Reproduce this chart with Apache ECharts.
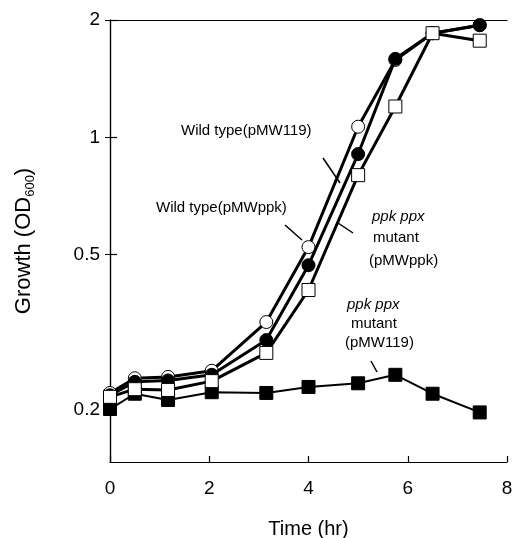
<!DOCTYPE html>
<html>
<head>
<meta charset="utf-8">
<script src="https://cdn.jsdelivr.net/npm/echarts@6/dist/echarts.min.js"></script>
<style>
  html, body { margin: 0; padding: 0; background: #fff; }
  #chart { width: 512px; height: 538px; }
</style>
</head>
<body>
<div id="chart"></div>
<script>
// sampling times (hr)
const times = [0, 0.5, 1.17, 2.05, 3.15, 4, 5, 5.75, 6.5, 7.45];
// OD600 readings
const wtPMWppk = [0.221, 0.241, 0.243, 0.252, 0.336, 0.523, 1.065, 1.58, 1.85, 1.94];   // open circles
const wtPMW119 = [0.218, 0.236, 0.238, 0.246, 0.302, 0.470, 0.906, 1.59, 1.85, 1.94];   // filled circles
const mutPMWppk = [0.216, 0.226, 0.225, 0.237, 0.280, 0.406, 0.800, 1.20, 1.85, 1.77];  // open squares
const mutPMW119 = [0.201, 0.220, 0.212, 0.222, 0.221, 0.229, 0.234, 0.246, 0.220, 0.197]; // filled squares
const yTicks = [0.2, 0.5, 1, 2];

const font = "'Liberation Sans', Arial, sans-serif";
const chart = echarts.init(document.getElementById('chart'));

function lineSeries(name, vals, symbol, filled, width, z) {
  return {
    name: name,
    type: 'line',
    data: times.map((t, i) => [t, vals[i]]),
    symbol: symbol,
    symbolSize: 13,
    showAllSymbol: true,
    z: z,
    lineStyle: { color: '#000', width: width },
    itemStyle: { color: filled ? '#000' : '#fff', borderColor: '#000', borderWidth: 1 },
    emphasis: { disabled: true }
  };
}

// annotation labels (pixel placement)
const notes = [
  { t: 'Wild type(pMW119)', x: 181, y: 132 },
  { t: 'Wild type(pMWppk)', x: 156, y: 209 },
  { t: 'ppk ppx', x: 372, y: 218, it: true },
  { t: 'mutant', x: 373, y: 239 },
  { t: '(pMWppk)', x: 369, y: 262 },
  { t: 'ppk ppx', x: 347, y: 306, it: true },
  { t: 'mutant', x: 351, y: 325 },
  { t: '(pMW119)', x: 345, y: 344 }
];
const pointers = [
  [323, 158, 340, 183],
  [285, 225, 302, 240],
  [338, 223, 353, 233],
  [371, 361, 377, 372]
];

const graphic = notes.map(n => ({
  type: 'text', left: n.x, top: n.y - 9, z: 100,
  style: { text: n.t, fill: '#000', font: (n.it ? 'italic ' : '') + '15px ' + font }
})).concat(pointers.map(p => ({
  type: 'line', z: 100,
  shape: { x1: p[0], y1: p[1], x2: p[2], y2: p[3] },
  style: { stroke: '#000', lineWidth: 1.5 }
})));

const labelFmt = v => String(+(+v).toPrecision(3));

const option = {
  animation: false,
  backgroundColor: '#fff',
  grid: { left: 110, right: 5, top: 20, bottom: 76, containLabel: false, outerBoundsMode: 'none' },
  xAxis: [
    {
      type: 'value', min: 0, max: 8, interval: 2, position: 'bottom',
      axisLine: { onZero: false, lineStyle: { color: '#000', width: 1.2 } },
      axisTick: { inside: true, length: 6, lineStyle: { color: '#000', width: 1.2 } },
      axisLabel: { fontSize: 19, color: '#000', margin: 17, fontFamily: font },
      splitLine: { show: false },
      name: 'Time (hr)', nameLocation: 'middle', nameGap: 57,
      nameTextStyle: { fontSize: 20, color: '#000', fontFamily: font }
    },
    {
      type: 'value', min: 0, max: 8, interval: 2, position: 'top',
      axisLine: { show: true, onZero: false, lineStyle: { color: '#000', width: 1.2 } },
      axisTick: { show: false }, axisLabel: { show: false }, splitLine: { show: false }
    }
  ],
  yAxis: [
    {
      type: 'log', logBase: 10, min: 0.147, max: 2, position: 'left',
      axisLine: { show: true, lineStyle: { color: '#000', width: 1.2 } },
      axisTick: { show: true, inside: true, length: 7, customValues: yTicks, lineStyle: { color: '#000', width: 1.2 } },
      axisLabel: { fontSize: 19, color: '#000', margin: 10, fontFamily: font, customValues: yTicks, formatter: labelFmt },
      splitLine: { show: false }, minorTick: { show: false },
      name: 'Growth (OD{sub|600})', nameLocation: 'middle', nameGap: 73, nameRotate: 90,
      nameTextStyle: {
        fontSize: 22, color: '#000', fontFamily: font,
        rich: { sub: { fontSize: 13, fontFamily: font, color: '#000', padding: [14, 0, 0, 0] } }
      }
    },
    {
      type: 'log', logBase: 10, min: 0.147, max: 2, position: 'right',
      axisLine: { show: true, lineStyle: { color: '#000', width: 1.2 } },
      axisTick: { show: true, inside: true, length: 5, customValues: yTicks, lineStyle: { color: '#000', width: 1 } },
      axisLabel: { show: false }, splitLine: { show: false }
    }
  ],
  series: [
    lineSeries('ppk ppx mutant (pMW119)', mutPMW119, 'rect', true, 2, 2),
    lineSeries('Wild type(pMWppk)', wtPMWppk, 'circle', false, 3, 3),
    lineSeries('Wild type(pMW119)', wtPMW119, 'circle', true, 3, 4),
    lineSeries('ppk ppx mutant (pMWppk)', mutPMWppk, 'rect', false, 3, 5)
  ],
  graphic: graphic
};

chart.setOption(option);
window.addEventListener('resize', () => chart.resize());
</script>
</body>
</html>
